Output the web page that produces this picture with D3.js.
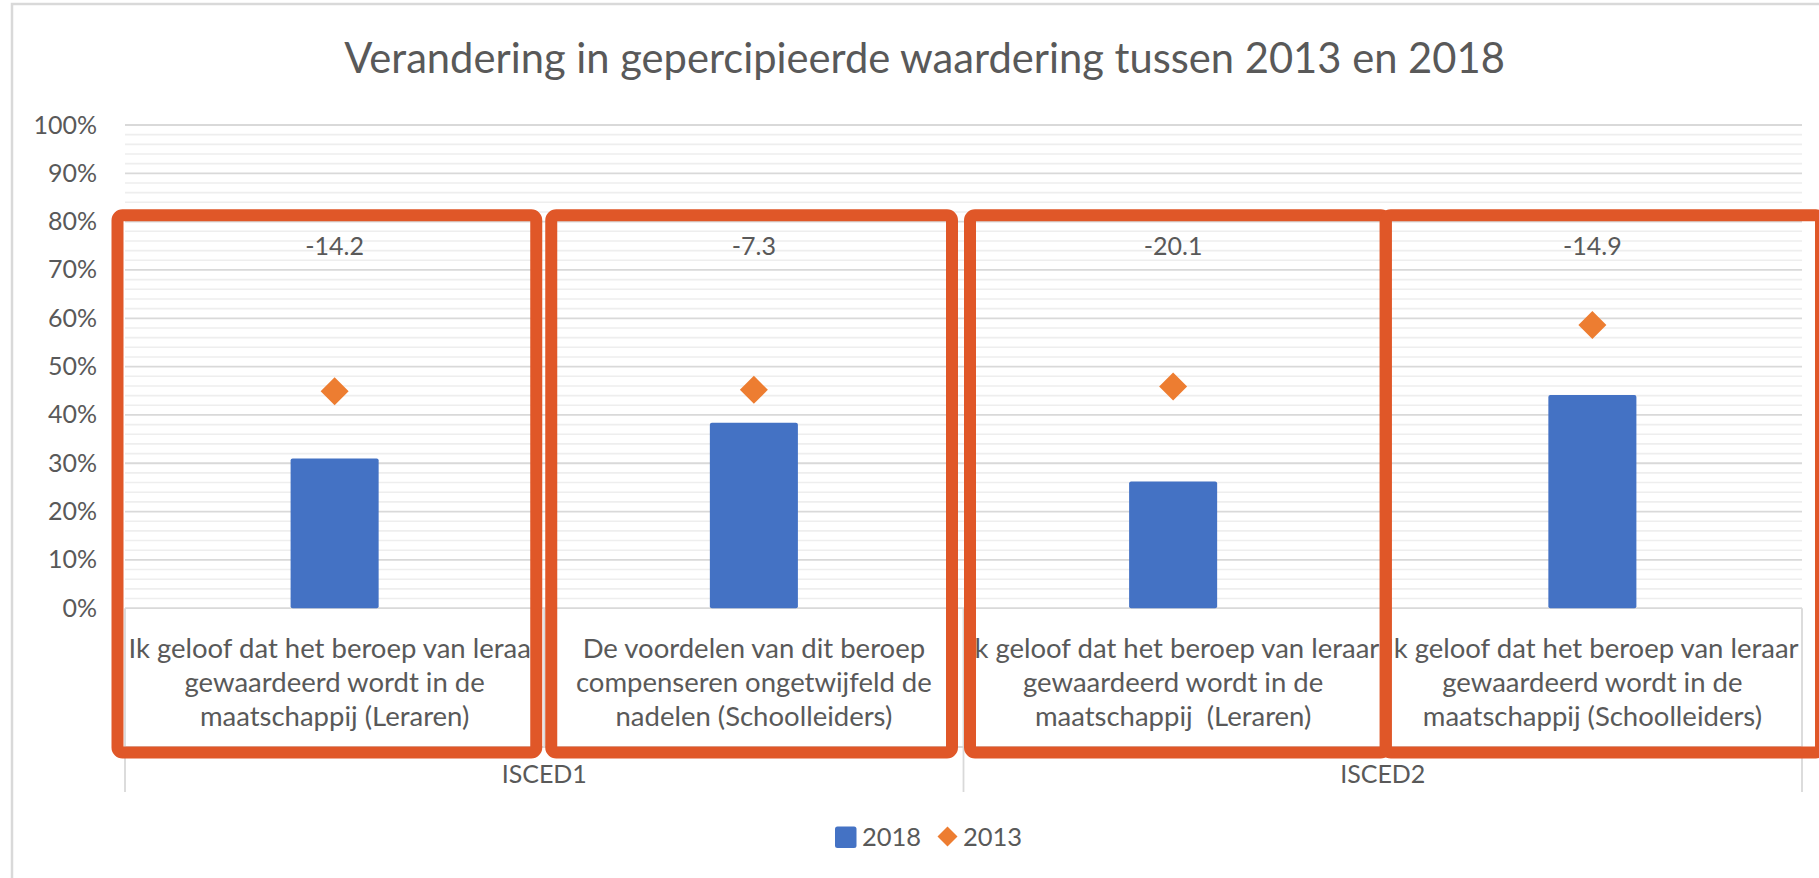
<!DOCTYPE html>
<html>
<head>
<meta charset="utf-8">
<script src="https://cdn.jsdelivr.net/npm/d3@7/dist/d3.min.js"></script>
<style>
  html, body { margin: 0; padding: 0; background: #ffffff; }
  svg { display: block; font-family: Lato, "Open Sans", sans-serif; }
</style>
</head>
<body>
<svg id="chart" width="1819" height="878"></svg>
<script>
// ---------------- data ----------------
const title = "Verandering in gepercipieerde waardering tussen 2013 en 2018";
const categories = ["c1", "c2", "c3", "c4"];
const categoryLabels = [
  ["Ik geloof dat het beroep van leraar", "gewaardeerd wordt in de", "maatschappij (Leraren)"],
  ["De voordelen van dit beroep", "compenseren ongetwijfeld de", "nadelen (Schoolleiders)"],
  ["Ik geloof dat het beroep van leraar", "gewaardeerd wordt in de", "maatschappij  (Leraren)"],
  ["Ik geloof dat het beroep van leraar", "gewaardeerd wordt in de", "maatschappij (Schoolleiders)"]
];
const groups = ["ISCED1", "ISCED2"];
const groupMembers = [["c1", "c2"], ["c3", "c4"]];
const values2018 = [31.0, 38.4, 26.2, 44.1];
const values2013 = [44.9, 45.2, 45.9, 58.6];
const diffLabels = ["-14.2", "-7.3", "-20.1", "-14.9"];
const diffLabelLevel = 75;
const yTicks = [0, 10, 20, 30, 40, 50, 60, 70, 80, 90, 100];
const seriesNames = ["2018", "2013"];

// ---------------- styles ----------------
const textColor = "#595959";
const barColor = "#4472C4";
const diamondColor = "#ED7D31";
const annotColor = "#E05728";
const majorGrid = "#d9d9d9";
const minorGrid = "#eeeeee";

const svg = d3.select("#chart");
const plot = { left: 125, right: 1802, top: 125, bottom: 608.2 };

// chart frame
svg.append("rect").attr("x", 12).attr("y", 4).attr("width", 1830).attr("height", 900)
  .attr("fill", "#fff").attr("stroke", "#d9d9d9").attr("stroke-width", 2.5);

const x = d3.scaleBand().domain(categories).range([plot.left, plot.right]).paddingInner(0).paddingOuter(0);
const y = d3.scaleLinear().domain([0, 100]).range([plot.bottom, plot.top]);

// title
const titleText = svg.append("text")
  .attr("x", 924.5).attr("y", 73)
  .attr("text-anchor", "middle")
  .attr("fill", textColor)
  .style("font-size", "40px")
  .text(title);
{
  const len = titleText.node().getComputedTextLength();
  titleText.style("font-size", (40 * 1161 / len) + "px");
}

// minor gridlines
const minorVals = d3.range(0, 101, 2).filter(v => v % 10 !== 0);
svg.append("g").selectAll("line").data(minorVals).join("line")
  .attr("x1", plot.left).attr("x2", plot.right)
  .attr("y1", d => y(d)).attr("y2", d => y(d))
  .attr("stroke", minorGrid).attr("stroke-width", 1.6);

// major gridlines
svg.append("g").selectAll("line").data(yTicks.filter(d => d > 0)).join("line")
  .attr("x1", plot.left).attr("x2", plot.right)
  .attr("y1", d => y(d)).attr("y2", d => y(d))
  .attr("stroke", majorGrid).attr("stroke-width", 1.8);

// y axis labels
const yAxis = d3.axisLeft(y).tickValues(yTicks).tickFormat(d => d + "%").tickSize(0).tickPadding(28);
const yg = svg.append("g").attr("transform", `translate(${plot.left},0)`).call(yAxis);
yg.select(".domain").remove();
yg.selectAll("text").attr("fill", textColor).style("font-size", "25px")
  .style("font-family", "Lato, 'Open Sans', sans-serif");

// category axis lines
const axisG = svg.append("g").attr("stroke", majorGrid).attr("stroke-width", 1.8).attr("fill", "none");
const row1Bottom = 747, row2Bottom = 792;
axisG.append("line").attr("x1", plot.left).attr("x2", plot.right).attr("y1", y(0)).attr("y2", y(0));
axisG.append("line").attr("x1", plot.left).attr("x2", plot.right).attr("y1", row1Bottom).attr("y2", row1Bottom);
const catEdges = categories.map(c => x(c)).concat([plot.right]);
axisG.selectAll("line.cdiv").data(catEdges).join("line").attr("class", "cdiv")
  .attr("x1", d => d).attr("x2", d => d).attr("y1", y(0)).attr("y2", row1Bottom);
const groupEdges = groupMembers.map(g => x(g[0])).concat([plot.right]);
axisG.selectAll("line.gdiv").data(groupEdges).join("line").attr("class", "gdiv")
  .attr("x1", d => d).attr("x2", d => d).attr("y1", row1Bottom).attr("y2", row2Bottom);

// category labels
const lineBaselines = [658, 692, 726];
const catG = svg.append("g");
categories.forEach((c, i) => {
  const cx = x(c) + x.bandwidth() / 2;
  categoryLabels[i].forEach((ln, j) => {
    catG.append("text").attr("x", cx).attr("y", lineBaselines[j])
      .attr("text-anchor", "middle").attr("fill", textColor)
      .style("font-size", "27.5px").style("white-space", "pre")
      .attr("xml:space", "preserve")
      .text(ln);
  });
});

// group labels
groups.forEach((g, i) => {
  const x0 = x(groupMembers[i][0]);
  const x1 = x(groupMembers[i][groupMembers[i].length - 1]) + x.bandwidth();
  svg.append("text").attr("x", (x0 + x1) / 2).attr("y", 783)
    .attr("text-anchor", "middle").attr("fill", textColor)
    .style("font-size", "25px").text(g);
});

// bars
const barFrac = 0.21;
const bw = x.bandwidth() * barFrac;
svg.append("g").selectAll("rect").data(categories).join("rect")
  .attr("x", d => x(d) + (x.bandwidth() - bw) / 2)
  .attr("width", bw)
  .attr("y", (d, i) => y(values2018[i]))
  .attr("height", (d, i) => y(0) - y(values2018[i]))
  .attr("fill", barColor).attr("rx", 2);

// diamonds
const diamond = d3.symbol().type(d3.symbolSquare).size(392);
svg.append("g").selectAll("path").data(categories).join("path")
  .attr("d", diamond)
  .attr("transform", (d, i) => `translate(${x(d) + x.bandwidth() / 2},${y(values2013[i])}) rotate(45)`)
  .attr("fill", diamondColor);

// difference labels
svg.append("g").selectAll("text").data(categories).join("text")
  .attr("x", d => x(d) + x.bandwidth() / 2)
  .attr("y", y(diffLabelLevel))
  .attr("dy", "0.35em")
  .attr("text-anchor", "middle").attr("fill", textColor)
  .style("font-size", "25px")
  .text((d, i) => diffLabels[i]);

// annotation boxes (orange) around each category, derived from band edges
const boxPadLeft = [-7.5, 7, 6.5, 3];
const boxPadRight = [-8, -11.5, 3, 19];
const boxTop = y(81.3), boxBottom = 752.5;
svg.append("g").selectAll("rect").data(categories).join("rect")
  .attr("x", (d, i) => x(d) + boxPadLeft[i])
  .attr("width", (d, i) => x.bandwidth() - boxPadLeft[i] + boxPadRight[i])
  .attr("y", boxTop).attr("height", boxBottom - boxTop)
  .attr("fill", "none").attr("stroke", annotColor).attr("stroke-width", 12).attr("rx", 5);

// legend
const lg = svg.append("g");
lg.append("rect").attr("x", 835).attr("y", 826.5).attr("width", 21.5).attr("height", 21.5)
  .attr("rx", 2.5).attr("fill", barColor);
lg.append("text").attr("x", 862).attr("y", 845.5).attr("fill", textColor).style("font-size", "25.5px").text(seriesNames[0]);
lg.append("path").attr("d", d3.symbol().type(d3.symbolSquare).size(200))
  .attr("transform", "translate(947.5,836.5) rotate(45)").attr("fill", diamondColor);
lg.append("text").attr("x", 963).attr("y", 845.5).attr("fill", textColor).style("font-size", "25.5px").text(seriesNames[1]);
</script>
</body>
</html>
